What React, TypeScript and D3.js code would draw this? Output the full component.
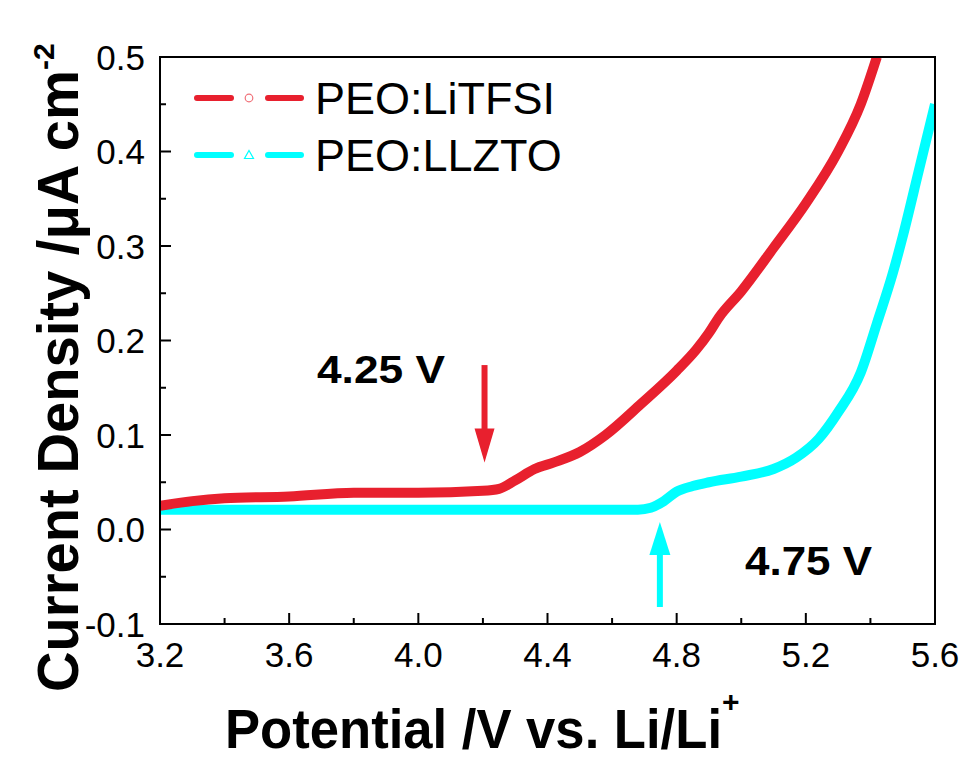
import React from 'react';
import * as d3 from 'd3';

// PEO:LiTFSI (red)
const redV = [3.2, 3.3, 3.4, 3.6, 3.8, 4.0, 4.2, 4.25, 4.3, 4.36, 4.42, 4.5, 4.58, 4.69, 4.8, 4.86, 4.9, 4.93, 5.0, 5.1, 5.2, 5.3, 5.37, 5.42];
const redI = [0.025, 0.030, 0.033, 0.035, 0.039, 0.039, 0.041, 0.043, 0.052, 0.064, 0.071, 0.082, 0.100, 0.133, 0.168, 0.190, 0.208, 0.224, 0.252, 0.298, 0.345, 0.400, 0.450, 0.500];
// PEO:LLZTO (cyan)
const cyanV = [3.2, 3.6, 4.0, 4.4, 4.68, 4.72, 4.76, 4.8, 4.85, 4.9, 5.0, 5.1, 5.17, 5.24, 5.3, 5.37, 5.42, 5.47, 5.5, 5.55, 5.6];
const cyanI = [0.021, 0.021, 0.021, 0.021, 0.021, 0.023, 0.030, 0.040, 0.046, 0.050, 0.056, 0.064, 0.076, 0.096, 0.124, 0.166, 0.218, 0.272, 0.310, 0.380, 0.450];

const xTicks = [3.2, 3.6, 4.0, 4.4, 4.8, 5.2, 5.6];
const xMinor = [3.4, 3.8, 4.2, 4.6, 5.0, 5.4];
const yTicks = [-0.1, 0.0, 0.1, 0.2, 0.3, 0.4, 0.5];
const yMinor = [-0.05, 0.05, 0.15, 0.25, 0.35, 0.45];

const seriesNames = ['PEO:LiTFSI', 'PEO:LLZTO'];
const RED = '#e8202e';
const CYAN = '#00ffff';

// annotations: [x, yStart, yTip]
const redArrow = [4.205, 0.174, 0.071];
const cyanArrow = [4.748, -0.082, 0.008];

const FONT = '"Liberation Sans", Arial, sans-serif';

export default function App() {
  const W = 965, H = 758;
  const L = 160, R = 935, T = 57, B = 624;
  const x = d3.scaleLinear().domain([3.2, 5.6]).range([L, R]);
  const y = d3.scaleLinear().domain([-0.1, 0.5]).range([B, T]);
  const line = d3.line<number>()
    .curve(d3.curveMonotoneX);
  const redPath = line(redV.map((v, i) => [x(v), y(redI[i])]) as any);
  const cyanPath = line(cyanV.map((v, i) => [x(v), y(cyanI[i])]) as any);

  const arrowDown = (a: number[], color: string) => {
    const ax = x(a[0]);
    const top = y(a[1]);
    const tip = y(a[2]);
    const hb = tip - 34;
    return (
      <g>
        <line x1={ax} x2={ax} y1={top} y2={hb + 2} stroke={color} strokeWidth={6} />
        <path d={`M${ax - 10},${hb} L${ax + 10},${hb} L${ax},${tip} Z`} fill={color} />
      </g>
    );
  };
  const arrowUp = (a: number[], color: string) => {
    const ax = x(a[0]);
    const bot = y(a[1]);
    const tip = y(a[2]);
    const hb = tip + 33;
    return (
      <g>
        <line x1={ax} x2={ax} y1={bot} y2={hb - 2} stroke={color} strokeWidth={6} />
        <path d={`M${ax - 10.5},${hb} L${ax + 10.5},${hb} L${ax},${tip} Z`} fill={color} />
      </g>
    );
  };

  return (
    <svg width={W} height={H} style={{ position: 'absolute', left: 0, top: 0, background: '#fff' }} fontFamily={FONT}>
      <defs>
        <clipPath id="plotclip">
          <rect x={L} y={T} width={R - L} height={B - T} />
        </clipPath>
      </defs>
      <rect x={0} y={0} width={W} height={H} fill="#fff" />
      <g clipPath="url(#plotclip)">
        <path d={cyanPath || ''} fill="none" stroke={CYAN} strokeWidth={10} strokeLinejoin="round" />
        <path d={redPath || ''} fill="none" stroke={RED} strokeWidth={10} strokeLinejoin="round" />
      </g>
      {/* frame */}
      <rect x={L} y={T} width={R - L} height={B - T} fill="none" stroke="#000" strokeWidth={2} />
      {/* x ticks */}
      {xTicks.map(t => (
        <g key={'xt' + t}>
          <line x1={x(t)} x2={x(t)} y1={B} y2={B - 11} stroke="#000" strokeWidth={2} />
          <text x={x(t)} y={667} textAnchor="middle" fontSize={35}>{t.toFixed(1)}</text>
        </g>
      ))}
      {xMinor.map(t => (
        <line key={'xm' + t} x1={x(t)} x2={x(t)} y1={B} y2={B - 6} stroke="#000" strokeWidth={2} />
      ))}
      {yTicks.map(t => (
        <g key={'yt' + t}>
          <line x1={L} x2={L + 11} y1={y(t)} y2={y(t)} stroke="#000" strokeWidth={2} />
          <text x={145} y={y(t) + 12.5} textAnchor="end" fontSize={35}>{t.toFixed(1)}</text>
        </g>
      ))}
      {yMinor.map(t => (
        <line key={'ym' + t} x1={L} x2={L + 6} y1={y(t)} y2={y(t)} stroke="#000" strokeWidth={2} />
      ))}
      {/* axis titles */}
      <text x={225} y={748} fontSize={56} fontWeight="bold">
        <tspan textLength={497} lengthAdjust="spacingAndGlyphs">Potential /V vs. Li/Li</tspan>
        <tspan fontSize={30} dy={-36}>+</tspan>
      </text>
      <text transform="translate(78,692) rotate(-90)" fontSize={58} fontWeight="bold">
        <tspan textLength={622} lengthAdjust="spacingAndGlyphs">Current Density /μA cm</tspan>
        <tspan fontSize={30} dy={-24}>-2</tspan>
      </text>
      {/* legend */}
      {seriesNames.map((name, i) => {
        const ly = i === 0 ? 98 : 155;
        const c = i === 0 ? RED : CYAN;
        return (
          <g key={name}>
            <line x1={197} x2={231} y1={ly} y2={ly} stroke={c} strokeWidth={6} strokeLinecap="round" />
            <line x1={268} x2={301} y1={ly} y2={ly} stroke={c} strokeWidth={6} strokeLinecap="round" />
            {i === 0 ? (
              <circle cx={249} cy={ly} r={3.8} fill="none" stroke="#f07078" strokeWidth={1.2} />
            ) : (
              <path d={`M249,${ly - 4.5} L253.5,${ly + 3.5} L244.5,${ly + 3.5} Z`} fill="none" stroke={CYAN} strokeWidth={1.2} />
            )}
            <text x={315} y={ly + 16} fontSize={45}>{name}</text>
          </g>
        );
      })}
      {/* annotations */}
      {arrowDown(redArrow, RED)}
      {arrowUp(cyanArrow, CYAN)}
      <text x={317} y={383} fontSize={39} fontWeight="bold" textLength={128} lengthAdjust="spacingAndGlyphs">4.25 V</text>
      <text x={745} y={575} fontSize={40} fontWeight="bold" textLength={127} lengthAdjust="spacingAndGlyphs">4.75 V</text>
    </svg>
  );
}
